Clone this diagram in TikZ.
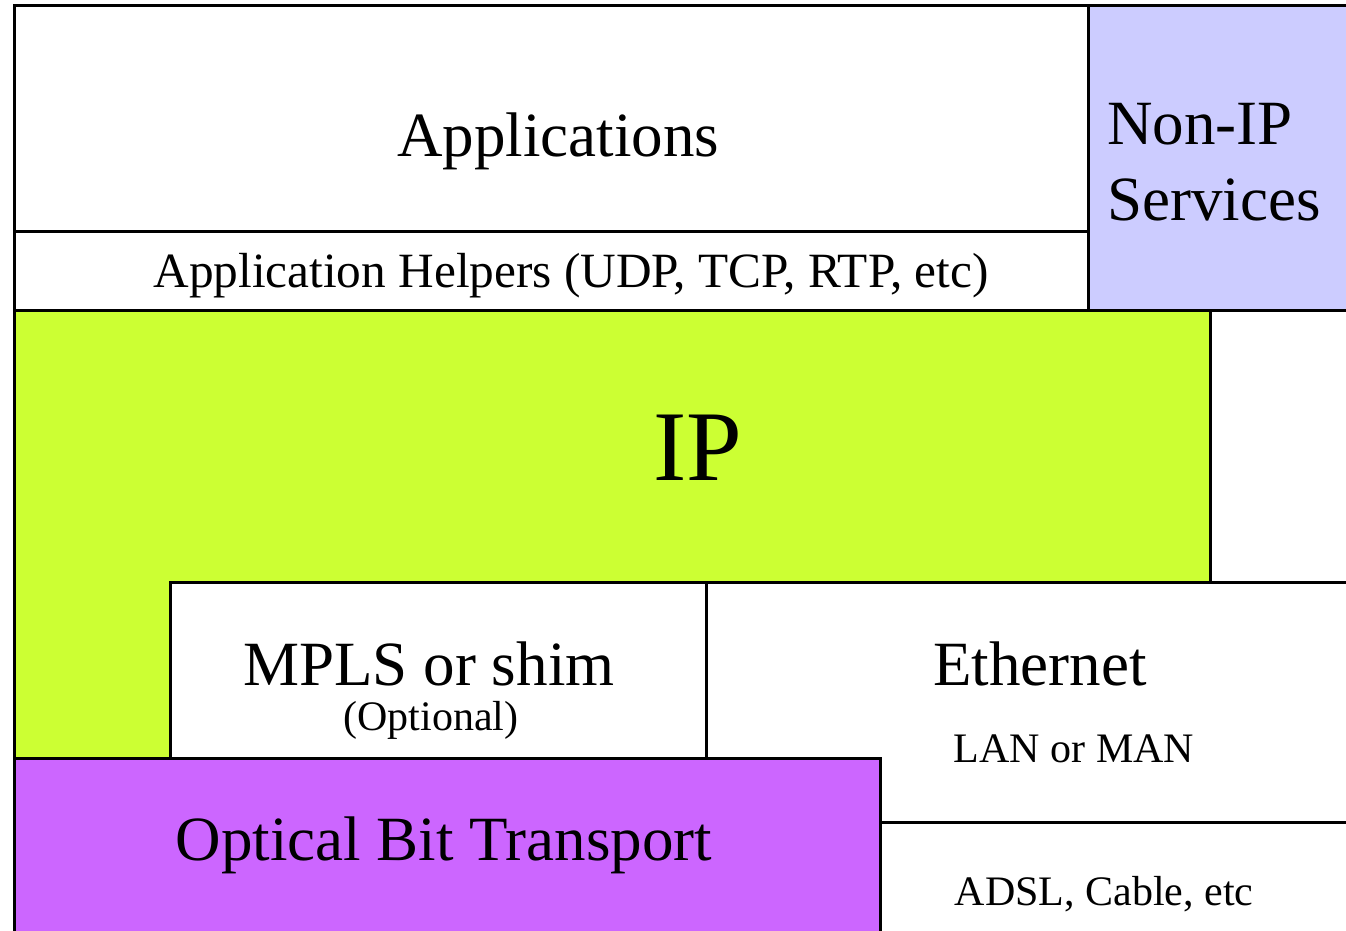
\documentclass[tikz,border=0pt]{standalone}
\usepackage{fontspec}
\setmainfont{Liberation Serif}
\newcommand{\fsz}[1]{\fontsize{#1}{1.2\dimexpr#1pt\relax}\selectfont}
\begin{document}
\begin{tikzpicture}[x=1pt, y=-1pt,
    layer/.style={line width=3pt},
    lbl/.style={anchor=base, inner sep=0pt, align=center},
    big/.style={lbl, font=\fsz{63}},
    small/.style={lbl, font=\fsz{42}}]
    \useasboundingbox (0,0) rectangle (1346,931);
    \definecolor{nonipblue}{RGB}{204,204,255}
    \definecolor{ipgreen}{RGB}{204,255,51}
    \definecolor{opticalpink}{RGB}{204,102,255}

    % Fills
    \fill[nonipblue] (1088,6) rectangle (1346,310);
    \fill[ipgreen] (14,310) -- (1210,310) -- (1210,582) -- (170,582) -- (170,758) -- (14,758) -- cycle;
    \fill[opticalpink] (14,758) rectangle (880,931);

    % Borders
    \draw[layer] (14,931) -- (14,6) -- (1346,6);
    \draw[layer] (14,231) -- (1088,231);
    \draw[layer] (1088,6) -- (1088,310);
    \draw[layer] (14,310) -- (1346,310);
    \draw[layer] (1210,310) -- (1210,582);
    \draw[layer] (170,758) -- (170,582) -- (1346,582);
    \draw[layer] (706,582) -- (706,758);
    \draw[layer] (14,758) -- (880,758) -- (880,931);
    \draw[layer] (880,822) -- (1346,822);

    % Labels
    \node (apps) [big] at (558,157) {Applications};
    \node (helpers) [lbl, font=\fsz{49.3}] at (571,287) {Application Helpers (UDP, TCP, RTP, etc)};
    \node (nonip) [big, anchor=base west, align=left] at (1107,220) {Non-IP\\Services};
    \node (ip) [lbl, font=\fsz{100}] at (698,480) {IP};
    \node (mpls) [big] at (429,685) {MPLS or shim};
    \node (optional) [small] at (431,730) {(Optional)};
    \node (eth) [big] at (1040,685) {Ethernet};
    \node (lan) [small] at (1074,762) {LAN or MAN};
    \node (optical) [big] at (444,860) {Optical Bit Transport};
    \node (adsl) [small] at (1104,905) {ADSL, Cable, etc};
\end{tikzpicture}
\end{document}
